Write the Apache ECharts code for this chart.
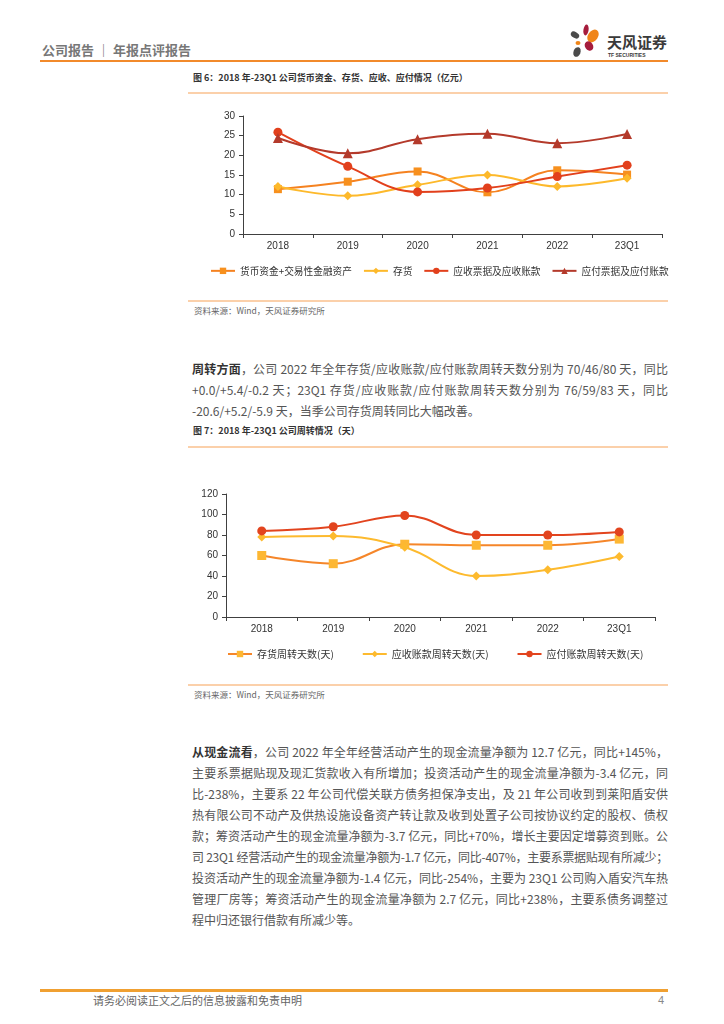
<!DOCTYPE html>
<html>
<head>
<meta charset="utf-8">
<script src="https://cdn.jsdelivr.net/npm/echarts@6/dist/echarts.min.js"></script>
<style>
  html, body { margin:0; padding:0; background:#fff; }
  body { width:724px; height:1024px; position:relative; overflow:hidden;
         font-family:"Noto Sans CJK SC","Noto Sans",sans-serif; }
  .abs { position:absolute; }
  .hline { position:absolute; height:0; }
  .ln { position:absolute; left:192px; width:476px; font-size:12px; color:#555; white-space:nowrap;
        line-height:14px; }
  .ln.j { text-align:justify; text-align-last:justify; }
  .ln b { color:#333; font-weight:bold; }
  .title { position:absolute; left:193px; font-size:9px; font-weight:bold; color:#333; line-height:12px; white-space:nowrap; }
  .src { position:absolute; left:194px; font-size:8.5px; color:#666; line-height:10px; white-space:nowrap; }
</style>
</head>
<body>
<!-- header -->
<div class="abs" style="left:42px;top:42px;font-size:13px;color:#777;line-height:16px;white-space:nowrap;font-weight:bold;">公司报告 ｜ 年报点评报告</div>
<div class="hline" style="left:40px;top:60px;width:628px;border-top:2.5px solid #F28A2B;"></div>
<svg class="abs" style="left:566px;top:20px;" width="40" height="40" viewBox="0 0 40 40">
  <ellipse cx="20" cy="10" rx="2.6" ry="5.5" fill="#A61C3C" transform="rotate(8 20 10)"/>
  <ellipse cx="27" cy="16" rx="5" ry="7" fill="#F08519" transform="rotate(35 27 16)"/>
  <ellipse cx="9" cy="15" rx="4.5" ry="3" fill="#4A4A4A" transform="rotate(30 9 15)"/>
  <ellipse cx="12" cy="23" rx="2.5" ry="2" fill="#F08519"/>
  <ellipse cx="23" cy="26" rx="4" ry="5" fill="#A61C3C" transform="rotate(-35 23 26)"/>
  <ellipse cx="11" cy="32" rx="3.5" ry="5" fill="#4A4A4A" transform="rotate(20 11 32)"/>
</svg>
<div class="abs" style="left:607px;top:33px;font-size:15px;font-weight:bold;color:#3a3a3a;line-height:17px;letter-spacing:0px;white-space:nowrap;">天风证券</div>
<div class="abs" style="left:608px;top:52px;font-size:5px;font-weight:bold;color:#3a3a3a;line-height:6px;white-space:nowrap;font-family:'Liberation Sans',Arial,sans-serif;">TF SECURITIES</div>

<!-- figure 6 -->
<div class="title" style="top:72px;">图 6：2018 年-23Q1 公司货币资金、存货、应收、应付情况（亿元）</div>
<div class="hline" style="left:188px;top:92px;width:480px;border-top:2px solid #FBD0AA;"></div>
<div id="c1" class="abs" style="left:188px;top:100px;width:530px;height:195px;"></div>
<div class="hline" style="left:188px;top:300px;width:480px;border-top:2px solid #FBD0AA;"></div>
<div class="src" style="top:305px;">资料来源：Wind，天风证券研究所</div>

<!-- paragraph 1 -->
<div id="p1"></div>

<!-- figure 7 -->
<div class="title" style="top:425px;">图 7：2018 年-23Q1 公司周转情况（天）</div>
<div class="hline" style="left:188px;top:446px;width:480px;border-top:2px solid #FBD0AA;"></div>
<div id="c2" class="abs" style="left:188px;top:480px;width:480px;height:195px;"></div>
<div class="hline" style="left:188px;top:684px;width:480px;border-top:2px solid #FBD0AA;"></div>
<div class="src" style="top:689px;">资料来源：Wind，天风证券研究所</div>

<!-- paragraph 2 -->
<div id="p2"></div>

<!-- footer -->
<div class="hline" style="left:40px;top:989px;width:628px;border-top:3px solid #F0A031;"></div>
<div class="abs" style="left:93px;top:994px;font-size:11px;color:#666;line-height:13px;white-space:nowrap;">请务必阅读正文之后的信息披露和免责申明</div>
<div class="abs" style="left:658px;top:994px;font-size:11px;color:#888;line-height:13px;font-family:'Liberation Sans',Arial,sans-serif;">4</div>

<script>
// ---------- data ----------
const years = ['2018', '2019', '2020', '2021', '2022', '23Q1'];

// Figure 6 (亿元)
const cashName = '货币资金+交易性金融资产';
const cashVals = [11.4, 13.3, 15.9, 10.6, 16.2, 15.1];
const invName = '存货';
const invVals = [12.1, 9.7, 12.5, 15.0, 12.1, 14.2];
const recName = '应收票据及应收账款';
const recVals = [25.9, 17.2, 10.7, 11.7, 14.6, 17.5];
const payName = '应付票据及应付账款';
const payVals = [24.4, 20.5, 24.1, 25.5, 23.1, 25.4];
const fig6Ticks = { min: 0, max: 30, interval: 5 };

// Figure 7 (天)
const invDaysName = '存货周转天数(天)';
const invDays = [60, 52, 71, 70, 70, 76];
const recDaysName = '应收账款周转天数(天)';
const recDays = [78, 79, 68, 40, 46, 59];
const payDaysName = '应付账款周转天数(天)';
const payDays = [84, 88, 99, 80, 80, 83];
const fig7Ticks = { min: 0, max: 120, interval: 20 };

// ---------- text ----------
const para1 = [
  '<b>周转方面</b>，公司 2022 年全年存货/应收账款/应付账款周转天数分别为 70/46/80 天，同比',
  '+0.0/+5.4/-0.2 天；23Q1 存货/应收账款/应付账款周转天数分别为 76/59/83 天，同比',
  '-20.6/+5.2/-5.9 天，当季公司存货周转同比大幅改善。'
];
const para2 = [
  '<b>从现金流看</b>，公司 2022 年全年经营活动产生的现金流量净额为 12.7 亿元，同比+145%，',
  '主要系票据贴现及现汇货款收入有所增加；投资活动产生的现金流量净额为-3.4 亿元，同',
  '比-238%，主要系 22 年公司代偿关联方债务担保净支出，及 21 年公司收到到莱阳盾安供',
  '热有限公司不动产及供热设施设备资产转让款及收到处置子公司按协议约定的股权、债权',
  '款；筹资活动产生的现金流量净额为-3.7 亿元，同比+70%，增长主要因定增募资到账。公',
  '司 23Q1 经营活动产生的现金流量净额为-1.7 亿元，同比-407%，主要系票据贴现有所减少；',
  '投资活动产生的现金流量净额为-1.4 亿元，同比-254%，主要为 23Q1 公司购入盾安汽车热',
  '管理厂房等；筹资活动产生的现金流量净额为 2.7 亿元，同比+238%，主要系债务调整过',
  '程中归还银行借款有所减少等。'
];
function writePara(id, lines, top0, step) {
  const host = document.getElementById(id);
  lines.forEach((t, i) => {
    const d = document.createElement('div');
    d.className = 'ln' + (i < lines.length - 1 ? ' j' : '');
    d.style.top = (top0 + i * step) + 'px';
    d.innerHTML = t;
    host.appendChild(d);
    if (i < lines.length - 1) {
      const probe = document.createElement('span');
      probe.innerHTML = t;
      probe.style.cssText = 'position:absolute;visibility:hidden;white-space:nowrap;font-size:12px;';
      document.body.appendChild(probe);
      const w = probe.getBoundingClientRect().width;
      const n = probe.textContent.length;
      probe.remove();
      if (w > 476) {
        d.style.letterSpacing = (-(w - 476) / n).toFixed(3) + 'px';
      }
    }
  });
}
writePara('p1', para1, 362, 21);
writePara('p2', para2, 745, 21);

// ---------- charts ----------
const latin = '"Liberation Sans", Arial, sans-serif';
const cjk = '"Noto Sans CJK SC", sans-serif';
function axes(ticks) {
  return {
    xAxis: {
      type: 'category', data: years, boundaryGap: true,
      axisLine: { lineStyle: { color: '#404040', width: 1 } },
      axisTick: { show: true, length: 4, alignWithLabel: false, lineStyle: { color: '#404040' } },
      axisLabel: { fontSize: 10, color: '#333', fontFamily: latin, margin: 7 },
      splitLine: { show: false }
    },
    yAxis: {
      type: 'value', min: ticks.min, max: ticks.max, interval: ticks.interval,
      axisLine: { show: true, lineStyle: { color: '#404040', width: 1 } },
      axisTick: { show: true, length: 4, lineStyle: { color: '#404040' } },
      axisLabel: { fontSize: 10, color: '#333', fontFamily: latin, margin: 8 },
      splitLine: { show: false }
    }
  };
}
function ser(name, data, symbol, size, lineColor, markColor) {
  return {
    name, type: 'line', data, symbol, symbolSize: size, smooth: 0.4,
    showAllSymbol: true,
    lineStyle: { color: lineColor, width: 2 },
    itemStyle: { color: markColor, borderWidth: 0 },
    emphasis: { disabled: true }, animation: false
  };
}

const c1 = echarts.init(document.getElementById('c1'), null, { renderer: 'canvas' });
c1.setOption(Object.assign({
  animation: false,
  grid: { left: 55, top: 16, width: 419, height: 118, containLabel: false },
  legend: {
    left: 22, top: 166, padding: 0, width: 505, itemWidth: 24, itemHeight: 8, itemGap: 11,
    textStyle: { fontSize: 9.7, color: '#333', fontFamily: cjk },
    data: [cashName, invName, recName, payName]
  },
  series: [
    ser(cashName, cashVals, 'rect', 8, '#F58220', '#F7901E'),
    ser(invName, invVals, 'diamond', 9, '#FDB92B', '#FDB92B'),
    ser(recName, recVals, 'circle', 9, '#E2401C', '#E2401C'),
    ser(payName, payVals, 'triangle', 10, '#B43A2B', '#B43A2B')
  ]
}, axes(fig6Ticks)));

const c2 = echarts.init(document.getElementById('c2'), null, { renderer: 'canvas' });
c2.setOption(Object.assign({
  animation: false,
  grid: { left: 38, top: 14, width: 429, height: 123, containLabel: false },
  legend: {
    left: 39, top: 169, padding: 0, itemWidth: 24, itemHeight: 8, itemGap: 28,
    textStyle: { fontSize: 10, color: '#333', fontFamily: cjk },
    data: [invDaysName, recDaysName, payDaysName]
  },
  series: [
    ser(invDaysName, invDays, 'rect', 9, '#F5862A', '#FDB733'),
    ser(recDaysName, recDays, 'diamond', 9, '#FDBA2E', '#FDBA2E'),
    ser(payDaysName, payDays, 'circle', 9, '#E2441E', '#E2441E')
  ]
}, axes(fig7Ticks)));
</script>
</body>
</html>
